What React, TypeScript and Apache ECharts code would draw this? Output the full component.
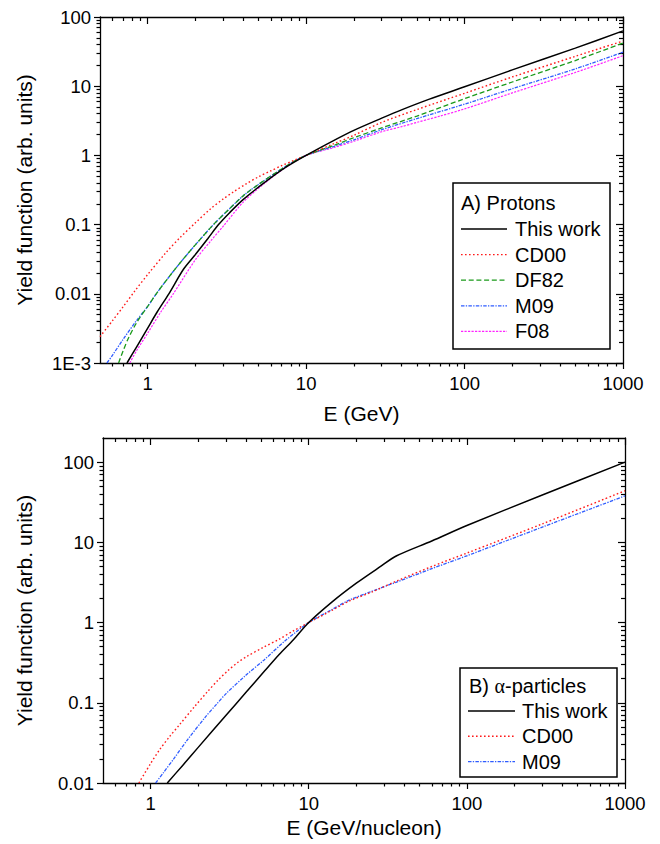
import React, { useEffect, useRef } from "react";
import * as echarts from "echarts";

const FONT = "'Liberation Sans', Arial, sans-serif";

// ---- axis ticks ----
const xMajor = [1, 10, 100, 1000];
const xMajorLabels = ["1", "10", "100", "1000"];
const xMinor = [0.6, 0.7, 0.8, 0.9, 2, 3, 4, 5, 6, 7, 8, 9, 20, 30, 40, 50, 60, 70, 80, 90, 200, 300, 400, 500, 600, 700, 800, 900];

const yMajorA = [0.001, 0.01, 0.1, 1, 10, 100];
const yMajorLabelsA = ["1E-3", "0.01", "0.1", "1", "10", "100"];
const yMinorA = [0.002, 0.003, 0.004, 0.005, 0.006, 0.007, 0.008, 0.009, 0.02, 0.03, 0.04, 0.05, 0.06, 0.07, 0.08, 0.09, 0.2, 0.3, 0.4, 0.5, 0.6, 0.7, 0.8, 0.9, 2, 3, 4, 5, 6, 7, 8, 9, 20, 30, 40, 50, 60, 70, 80, 90];

const yMajorB = [0.01, 0.1, 1, 10, 100];
const yMajorLabelsB = ["0.01", "0.1", "1", "10", "100"];
const yMinorB = [0.02, 0.03, 0.04, 0.05, 0.06, 0.07, 0.08, 0.09, 0.2, 0.3, 0.4, 0.5, 0.6, 0.7, 0.8, 0.9, 2, 3, 4, 5, 6, 7, 8, 9, 20, 30, 40, 50, 60, 70, 80, 90];

// ---- Panel A: protons [E (GeV), yield] ----
const protonThisWork = [[0.74, 0.001], [0.85, 0.0017], [1.0, 0.0032], [1.15, 0.0055], [1.36, 0.01], [1.69, 0.023], [2.0, 0.037], [2.4, 0.063], [2.8, 0.1], [3.3, 0.15], [4.0, 0.23], [5.5, 0.41], [7.5, 0.68], [10, 1.0], [15, 1.65], [20, 2.3], [30, 3.45], [40, 4.55], [60, 6.5], [100, 9.8], [200, 17.2], [500, 35.5], [1000, 63]];
const protonCD00 = [[0.5, 0.0024], [0.6, 0.0041], [0.7, 0.0065], [0.83, 0.011], [1.0, 0.019], [1.3, 0.039], [1.6, 0.065], [2.0, 0.106], [2.5, 0.17], [3.0, 0.235], [3.5, 0.3], [4.2, 0.39], [5.0, 0.49], [6.0, 0.6], [7.0, 0.71], [8.5, 0.86], [10, 1.0], [15, 1.48], [20, 1.95], [30, 3.0], [50, 4.6], [100, 7.9], [200, 13.6], [500, 27], [1000, 45]];
const protonDF82 = [[0.655, 0.001], [0.7, 0.0015], [0.75, 0.0022], [0.85, 0.0038], [1.0, 0.0066], [1.15, 0.0105], [1.4, 0.019], [1.7, 0.033], [2.1, 0.058], [2.6, 0.1], [3.2, 0.16], [4.0, 0.26], [5.0, 0.38], [6.5, 0.57], [8.0, 0.77], [10, 1.0], [15, 1.4], [20, 1.8], [30, 2.5], [50, 3.7], [100, 6.6], [200, 11.5], [500, 23.5], [1000, 42]];
const protonM09 = [[0.553, 0.001], [0.6, 0.0013], [0.7, 0.0022], [0.85, 0.0041], [1.0, 0.0066], [1.15, 0.0105], [1.4, 0.019], [1.7, 0.033], [2.1, 0.058], [2.6, 0.1], [3.2, 0.16], [4.0, 0.26], [5.0, 0.38], [6.5, 0.57], [8.0, 0.77], [10, 1.0], [15, 1.35], [20, 1.68], [30, 2.35], [50, 3.4], [100, 5.5], [200, 9.2], [500, 17.8], [1000, 31]];
const protonF08 = [[0.77, 0.001], [0.85, 0.0015], [1.0, 0.0027], [1.2, 0.0053], [1.45, 0.01], [2.0, 0.031], [2.5, 0.058], [3.0, 0.095], [4.0, 0.21], [5.5, 0.4], [7.5, 0.68], [10, 1.0], [15, 1.3], [20, 1.6], [30, 2.2], [40, 2.6], [50, 3.0], [70, 3.7], [100, 4.7], [200, 8.0], [500, 15.8], [1000, 27.6]];

// ---- Panel B: alpha particles [E (GeV/nucleon), yield] ----
const alphaThisWork = [[1.275, 0.01], [1.6, 0.0167], [2.0, 0.0278], [3.0, 0.07], [4.0, 0.134], [5.27, 0.25], [6.5, 0.4], [8.0, 0.61], [10, 1.0], [14, 1.8], [20, 3.1], [28, 4.9], [36, 6.8], [60, 10.4], [100, 16.2], [300, 39], [1000, 100]];
const alphaCD00 = [[0.843, 0.01], [1.0, 0.0175], [1.14, 0.026], [1.32, 0.038], [1.52, 0.053], [1.9, 0.09], [2.3, 0.139], [2.66, 0.19], [3.1, 0.254], [3.57, 0.32], [4.03, 0.375], [5.15, 0.49], [6.5, 0.62], [8.0, 0.79], [10, 1.0], [14, 1.42], [18, 1.85], [25, 2.4], [36, 3.3], [60, 5.0], [100, 7.35], [300, 17], [1000, 44]];
const alphaM09 = [[1.076, 0.01], [1.2, 0.0133], [1.4, 0.02], [1.7, 0.034], [2.2, 0.065], [2.6, 0.095], [3.0, 0.13], [4.0, 0.22], [5.2, 0.34], [7.0, 0.58], [8.5, 0.79], [10, 1.0], [14, 1.45], [18, 1.9], [25, 2.45], [36, 3.2], [60, 4.7], [100, 6.8], [300, 15.5], [1000, 38]];

const labelFor = (ticks: number[], labels: string[]) => (v: number) => {
  for (let i = 0; i < ticks.length; i++) {
    if (Math.abs(Math.log10(v) - Math.log10(ticks[i])) < 0.01) return labels[i];
  }
  return "";
};

const BLACK = "#000";
const tickLine = { color: BLACK, width: 1.2 };
const axisLineStyle = { color: BLACK, width: 1.3 };

function makeXAxes(grid: number, name: string, nameGap: number) {
  const base: any = {
    type: "log", logBase: 10, min: 0.5, max: 1000, gridIndex: grid,
    splitLine: { show: false }, minorTick: { show: false }, minorSplitLine: { show: false },
  };
  return [
    {
      ...base, position: "bottom", name, nameLocation: "middle", nameGap,
      nameTextStyle: { fontSize: 21, fontFamily: FONT, color: BLACK },
      axisLine: { show: true, onZero: false, lineStyle: axisLineStyle },
      axisTick: { show: true, inside: false, length: 6, customValues: xMajor, lineStyle: tickLine },
      axisLabel: { show: true, customValues: xMajor, formatter: labelFor(xMajor, xMajorLabels), margin: 11, fontSize: 18.5, fontFamily: FONT, color: BLACK },
    },
    {
      ...base, position: "bottom",
      axisLine: { show: false }, axisLabel: { show: false },
      axisTick: { show: true, inside: false, length: 3.5, customValues: xMinor, lineStyle: tickLine },
    },
    {
      ...base, position: "top",
      axisLine: { show: true, onZero: false, lineStyle: axisLineStyle }, axisLabel: { show: false },
      axisTick: { show: true, inside: true, length: 7, customValues: xMajor, lineStyle: tickLine },
    },
    {
      ...base, position: "top",
      axisLine: { show: false }, axisLabel: { show: false },
      axisTick: { show: true, inside: true, length: 4, customValues: xMinor, lineStyle: tickLine },
    },
  ];
}

function makeYAxes(grid: number, min: number, max: number, major: number[], labels: string[], minor: number[], nameGap: number) {
  const base: any = {
    type: "log", logBase: 10, min, max, gridIndex: grid,
    splitLine: { show: false }, minorTick: { show: false }, minorSplitLine: { show: false },
  };
  return [
    {
      ...base, position: "left", name: "Yield function (arb. units)", nameLocation: "middle", nameGap,
      nameTextStyle: { fontSize: 21, fontFamily: FONT, color: BLACK },
      axisLine: { show: true, onZero: false, lineStyle: axisLineStyle },
      axisTick: { show: true, inside: false, length: 6, customValues: major, lineStyle: tickLine },
      axisLabel: { show: true, customValues: major, formatter: labelFor(major, labels), margin: 9, fontSize: 18.5, fontFamily: FONT, color: BLACK },
    },
    {
      ...base, position: "left",
      axisLine: { show: false }, axisLabel: { show: false },
      axisTick: { show: true, inside: false, length: 3.5, customValues: minor, lineStyle: tickLine },
    },
    {
      ...base, position: "right",
      axisLine: { show: true, onZero: false, lineStyle: axisLineStyle }, axisLabel: { show: false },
      axisTick: { show: true, inside: true, length: 7, customValues: major, lineStyle: tickLine },
    },
    {
      ...base, position: "right",
      axisLine: { show: false }, axisLabel: { show: false },
      axisTick: { show: true, inside: true, length: 4, customValues: minor, lineStyle: tickLine },
    },
  ];
}

const STYLES: Record<string, { color: string; width: number; dash: any }> = {
  "This work": { color: "#000000", width: 1.5, dash: "solid" },
  CD00: { color: "#ff1a1a", width: 1.4, dash: [1.6, 2.4] },
  DF82: { color: "#1a9a1a", width: 1.3, dash: [5, 2.7] },
  M09: { color: "#2f5cff", width: 1.3, dash: [3.5, 1.3, 1.3, 1.3] },
  F08: { color: "#ff22ff", width: 1.2, dash: [2.2, 1.3] },
};

const line = (name: string, data: number[][], axisIdx: number, z: number) => {
  const s = STYLES[name];
  return {
    type: "line", name, data, xAxisIndex: axisIdx, yAxisIndex: axisIdx,
    showSymbol: false, symbol: "none", smooth: 0.3, clip: true, silent: true, z,
    lineStyle: { color: s.color, width: s.width, type: s.dash, cap: "butt" },
    emphasis: { disabled: true },
  };
};

function legendGraphics(
  box: { x: number; y: number; w: number; h: number },
  title: any,
  entries: string[],
  firstY: number,
  step: number,
  lineX1: number,
  lineX2: number,
  textX: number,
) {
  const els: any[] = [
    { type: "rect", z: 100, shape: { x: box.x, y: box.y, width: box.w, height: box.h }, style: { fill: "#fff", stroke: BLACK, lineWidth: 1.5 } },
    title,
  ];
  entries.forEach((name, i) => {
    const s = STYLES[name];
    const y = firstY + i * step;
    els.push({
      type: "line", z: 101,
      shape: { x1: lineX1, y1: y, x2: lineX2, y2: y },
      style: { stroke: s.color, lineWidth: s.width, lineDash: s.dash === "solid" ? null : s.dash },
    });
    els.push({
      type: "text", z: 101, x: textX, y,
      style: { text: name, fontSize: 20, fontFamily: FONT, fill: BLACK, align: "left", verticalAlign: "middle" },
    });
  });
  return els;
}

const legendA = legendGraphics(
  { x: 453, y: 183, w: 157, h: 166 },
  { type: "text", z: 101, x: 461, y: 203, style: { text: "A) Protons", fontSize: 20, fontFamily: FONT, fill: BLACK, align: "left", verticalAlign: "middle" } },
  ["This work", "CD00", "DF82", "M09", "F08"], 229, 25.6, 461, 507, 515,
);

const legendB = legendGraphics(
  { x: 460, y: 668, w: 157, h: 109 },
  {
    type: "text", z: 101, x: 469, y: 686,
    style: {
      text: "B) {a|α}-particles", fontSize: 20, fontFamily: FONT, fill: BLACK, align: "left", verticalAlign: "middle",
      rich: { a: { fontSize: 20, fontFamily: "'Liberation Serif', 'DejaVu Serif', serif", fill: BLACK } },
    },
  },
  ["This work", "CD00", "M09"], 711, 25.3, 468, 515, 522,
);

const option: any = {
  animation: false,
  backgroundColor: "#fff",
  textStyle: { fontFamily: FONT },
  grid: [
    { left: 100, top: 17, width: 523, height: 346, containLabel: false, outerBoundsMode: "none" },
    { left: 103, top: 438, width: 522, height: 345, containLabel: false, outerBoundsMode: "none" },
  ],
  xAxis: [...makeXAxes(0, "E (GeV)", 40), ...makeXAxes(1, "E (GeV/nucleon)", 34)],
  yAxis: [
    ...makeYAxes(0, 0.001, 100, yMajorA, yMajorLabelsA, yMinorA, 65),
    ...makeYAxes(1, 0.01, 200, yMajorB, yMajorLabelsB, yMinorB, 68),
  ],
  series: [
    line("F08", protonF08, 0, 2),
    line("M09", protonM09, 0, 3),
    line("DF82", protonDF82, 0, 4),
    line("CD00", protonCD00, 0, 5),
    line("This work", protonThisWork, 0, 6),
    line("M09", alphaM09, 4, 3),
    line("CD00", alphaCD00, 4, 5),
    line("This work", alphaThisWork, 4, 6),
  ],
  graphic: [...legendA, ...legendB],
};

export default function App() {
  const ref = useRef<HTMLDivElement>(null);
  useEffect(() => {
    if (!ref.current) return;
    const chart = echarts.init(ref.current, null, { renderer: "svg", width: 660, height: 844 });
    chart.setOption(option);
    return () => chart.dispose();
  }, []);
  return <div ref={ref} style={{ position: "absolute", left: 0, top: 0, width: 660, height: 844, background: "#fff" }} />;
}
